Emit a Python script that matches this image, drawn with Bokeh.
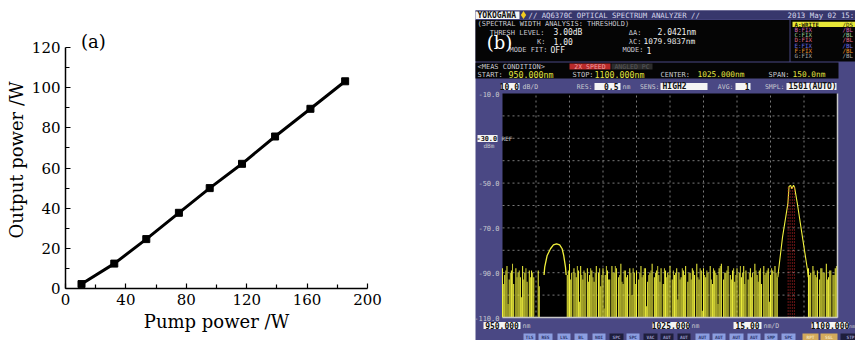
import math
from bokeh.plotting import figure
from bokeh.layouts import row
from bokeh.models import Label, Range1d, FixedTicker, ColumnDataSource
from bokeh.embed import file_html
from bokeh.resources import INLINE

# ---------------- data: panel (a)
pump_power_w = [10.6, 32.3, 53.5, 75.1, 95.5, 116.9, 138.8, 162.2, 185.2]
output_power_w = [2.2, 12.4, 24.6, 37.7, 50.0, 62.1, 75.7, 89.5, 103.2]
a_xticks = [0, 40, 80, 120, 160, 200]
a_xminor = [20, 60, 100, 140, 180]
a_yticks = [0, 20, 40, 60, 80, 100, 120]
a_yminor = [10, 30, 50, 70, 90, 110]

# ---------------- data: panel (b)  (optical spectrum analyser screen)
osa_start_nm, osa_stop_nm = 950.0, 1100.0
osa_top_dbm, osa_bottom_dbm = -10.0, -110.0
grid_nm = [965, 980, 995, 1010, 1025, 1040, 1055, 1070, 1085]
grid_dbm = [-20, -30, -40, -50, -60, -70, -80, -90, -100]
level_labels_dbm = [-10, -50, -70, -90, -110]
level_labels_txt = ["-10.0", "-50.0", "-70.0", "-90.0", "-110.0"]
noise_nm = [950 + i for i in range(151)]          # samples on whole nm
noise_dbm = [
    -88, -91, -87, -93, -89, -95, -88, -90, -92, -87,
    -90, -94, -89, -89, -92, -110, -89, -110, -110, -110,
    -110, -110, -110, -110, -110, -110, -110, -110, -110, -91,
    -86, -90, -88, -92, -89, -87, -93, -90, -88, -91,
    -89, -94, -87, -90, -96, -88, -91, -89, -93, -87,
    -90, -88, -92, -86, -95, -89, -91, -88, -100, -90,
    -89, -93, -87, -91, -88, -94, -90, -86, -92, -89,
    -91, -88, -95, -89, -90, -87, -93, -91, -88, -90,
    -92, -89, -87, -94, -90, -88, -91, -86, -93, -89,
    -88, -92, -90, -87, -95, -89, -91, -88, -86, -93,
    -90, -87, -91, -89, -94, -88, -90, -92, -87, -89,
    -93, -88, -90, -86, -91, -89, -95, -87, -90, -88,
    -91, -89, -87, -92, -110, -110, -110, -110, -110, -110,
    -110, -110, -110, -110, -110, -110, -110, -88, -90, -87,
    -91, -89, -93, -88, -90, -86, -92, -89, -91, -88,
    -90,
]
noise2_nm = [950.5 + i for i in range(150)]       # samples on half nm
noise2_dbm = [
    -95, -89, -104, -90, -86, -110, -92, -89, -101, -93,
    -88, -110, -92, -90, -110, -110, -96, -110, -110, -110,
    -110, -110, -110, -110, -110, -110, -110, -110, -110, -89,
    -93, -110, -90, -87, -103, -91, -89, -110, -94, -88,
    -92, -90, -110, -88, -91, -106, -87, -93, -110, -90,
    -87, -110, -91, -94, -89, -92, -110, -90, -88, -95,
    -110, -90, -92, -88, -105, -91, -89, -110, -90, -87,
    -94, -110, -88, -92, -91, -110, -89, -90, -102, -93,
    -88, -91, -110, -90, -93, -89, -110, -92, -88, -107,
    -91, -89, -110, -93, -88, -90, -104, -87, -110, -90,
    -89, -110, -93, -88, -91, -110, -87, -90, -95, -110,
    -90, -92, -110, -89, -94, -88, -110, -91, -89, -103,
    -88, -110, -90, -110, -110, -110, -110, -110, -110, -110,
    -110, -110, -110, -110, -110, -110, -110, -91, -110, -89,
    -92, -110, -88, -90, -110, -93, -89, -110, -91, -87,
]
bump_nm = [968.6, 968.9, 970.0, 971.5, 972.8, 974.2, 975.6, 976.7, 977.4, 978.2, 978.5]
bump_dbm = [-91, -87.5, -82.3, -79.3, -77.6, -77.1, -77.6, -79.3, -82.3, -87.5, -91]
peak_nm = [1073.3, 1073.6, 1075.4, 1077.8, 1078.3, 1079.0, 1079.6, 1080.3, 1080.8, 1082.0, 1084.6, 1086.6, 1086.9]
peak_dbm = [-92, -89, -74, -59, -51.5, -51.0, -52.5, -51.0, -52.0, -59, -76, -89, -92]
marker_nm = [1077.9, 1078.8, 1079.8, 1080.7]
marker_top_dbm = -52

SERIF = "DejaVu Serif"
MONO = "DejaVu Sans Mono"

# ======================= panel (a) =======================
pa = figure(width=470, height=340, x_range=Range1d(0, 200), y_range=Range1d(0, 128),
            output_backend="svg", toolbar_location=None,
            min_border_left=65, min_border_right=103, min_border_top=31, min_border_bottom=52)
pa.frame_align = False
pa.xgrid.visible = False
pa.ygrid.visible = False
pa.outline_line_color = None
pa.background_fill_color = "white"
pa.border_fill_color = "white"
pa.line(pump_power_w, output_power_w, line_width=3, line_color="black")
pa.scatter(pump_power_w, output_power_w, marker="square", size=7,
           fill_color="black", line_color="black")
pa.xaxis.ticker = FixedTicker(ticks=a_xticks, minor_ticks=a_xminor)
pa.yaxis.ticker = FixedTicker(ticks=a_yticks, minor_ticks=a_yminor)
pa.yaxis.bounds = (0, 120)
pa.xaxis.axis_label = "Pump power /W"
pa.yaxis.axis_label = "Output power /W"
for ax in [pa.xaxis[0], pa.yaxis[0]]:
    ax.axis_line_width = 1.5
    ax.axis_line_color = "black"
    ax.major_tick_in = 5
    ax.major_tick_out = 0
    ax.minor_tick_in = 4
    ax.minor_tick_out = 0
    ax.major_tick_line_width = 1.2
    ax.minor_tick_line_width = 1.2
    ax.major_tick_line_color = "black"
    ax.minor_tick_line_color = "black"
    ax.major_label_text_font = SERIF
    ax.major_label_text_font_size = "15px"
    ax.major_label_text_color = "black"
    ax.major_label_standoff = 5
    ax.axis_label_text_font = SERIF
    ax.axis_label_text_font_size = "18px"
    ax.axis_label_text_font_style = "normal"
    ax.axis_label_text_color = "black"
pa.xaxis.axis_label_standoff = 3
pa.yaxis.axis_label_standoff = 2

pa.add_layout(Label(x=18.5, y=123, text="(a)",
                    text_font=SERIF, text_font_size="18px", text_color="black",
                    text_align="center", text_baseline="middle"))

# ======================= panel (b) =======================
KX = (837 - 502) / (osa_stop_nm - osa_start_nm)   # px per nm
KY = (317 - 93) / (osa_top_dbm - osa_bottom_dbm)  # px per dB


def X(px):
    return osa_start_nm + (px - 502) / KX


def Y(py):
    return osa_top_dbm - (py - 93) / KY


pb = figure(width=385, height=340, x_range=Range1d(X(470), X(855)),
            y_range=Range1d(Y(340), Y(0)), output_backend="svg", toolbar_location=None,
            x_axis_location=None, y_axis_location=None,
            min_border_left=0, min_border_right=0, min_border_top=0, min_border_bottom=0)
pb.frame_align = False
pb.grid.visible = False
pb.outline_line_color = None
pb.background_fill_color = "white"
pb.border_fill_color = "white"

NAVY = "#4a4884"
boxes = dict(left=[], right=[], top=[], bottom=[], color=[])


def box(l, t, r, b, c):
    boxes["left"].append(X(l))
    boxes["right"].append(X(r))
    boxes["top"].append(Y(t))
    boxes["bottom"].append(Y(b))
    boxes["color"].append(c)


box(475, 10, 860, 345, NAVY)
box(475, 10, 860, 19, "#37376c")
box(475, 11, 519, 18.5, "#f4f4f4")
box(475, 19.5, 789, 61, "#050505")
box(790, 19.5, 860, 61, "#050505")
box(792, 21.3, 860, 26.6, "#e8e838")
box(475, 62, 838, 78, "#050505")
box(569, 63, 610, 69, "#b82a2a")
box(611, 63, 652, 69, "#2c2c2c")
# settings row white boxes
box(501, 82.5, 519, 89.5, "#f4f4f4")
box(594, 82.5, 620, 89.5, "#f4f4f4")
box(660, 82.5, 707, 89.5, "#f4f4f4")
box(735, 82.5, 750, 89.5, "#f4f4f4")
box(786, 82.5, 836, 89.5, "#f4f4f4")
# ref level box
box(477, 134.5, 497, 141.5, "#f4f4f4")
# bottom row white boxes
box(483, 321.5, 520, 328.5, "#f4f4f4")
box(652, 321.5, 689, 328.5, "#f4f4f4")
box(733, 321.5, 761, 328.5, "#f4f4f4")
box(811, 321.5, 848, 328.5, "#f4f4f4")
# soft-key buttons along the bottom edge
buttons = [(523, 535, "TLS", 0), (538, 552, "RES", 0), (557, 570, "LVL", 0), (574, 587, "BL", 0),
           (592, 605, "NOI", 0), (609, 623, "SPC", 1), (626, 639, "SPC", 0), (643, 657, "VAC", 1),
           (660, 673, "AUT", 1), (677, 690, "AUT", 1), (695, 709, "AUT", 0), (712, 725, "AUT", 0),
           (729, 743, "AUT", 0), (747, 760, "AUT", 0), (764, 777, "SMP", 0), (781, 795, "SPC", 0),
           (802, 818, "RPT", 2), (820, 837, "SGL", 2), (840, 860, "STP", 1)]
btn_fill = ["#8c9ee0", "#1e1e3c", "#d4aa5c"]
btn_text = ["#2a3470", "#9a9ac8", "#f4e4b8"]
for l, r, t, k in buttons:
    box(l, 333, r, 341, btn_fill[k])
pb.quad(left="left", right="right", top="top", bottom="bottom", fill_color="color",
        line_color=None, source=ColumnDataSource(boxes))

# plot area
pb.quad(left=[osa_start_nm], right=[osa_stop_nm], top=[osa_top_dbm], bottom=[osa_bottom_dbm],
        fill_color="black", line_color=None)
pb.segment(x0=grid_nm, y0=[osa_bottom_dbm] * len(grid_nm), x1=grid_nm,
           y1=[osa_top_dbm] * len(grid_nm), line_color="#7a7a7a", line_width=1, line_dash="2 3")
pb.segment(x0=[osa_start_nm] * len(grid_dbm), y0=grid_dbm, x1=[osa_stop_nm] * len(grid_dbm),
           y1=grid_dbm, line_color="#7a7a7a", line_width=1, line_dash="2 3")

YEL = "#f0f03c"
YEL2 = "#d4d436"
pb.vbar(x=noise_nm, width=0.46, bottom=osa_bottom_dbm, top=noise_dbm,
        fill_color=YEL, line_color=None)
pb.vbar(x=noise2_nm, width=0.42, bottom=osa_bottom_dbm, top=noise2_dbm,
        fill_color=YEL2, line_color=None)
pb.line(bump_nm, bump_dbm, line_color=YEL, line_width=1.3)
pb.line(peak_nm, peak_dbm, line_color=YEL, line_width=1.1)
pb.segment(x0=marker_nm, y0=[osa_bottom_dbm] * len(marker_nm), x1=marker_nm,
           y1=[marker_top_dbm] * len(marker_nm), line_color="#d42a2a", line_width=1,
           line_dash="1 2")
# frame lines (bottom and right)
pb.segment(x0=[osa_start_nm, osa_stop_nm], y0=[osa_bottom_dbm, osa_bottom_dbm],
           x1=[osa_stop_nm, osa_stop_nm], y1=[osa_bottom_dbm, osa_top_dbm],
           line_color="#c8c8c8", line_width=1.5)

# diamond in title bar
pb.scatter([X(523)], [Y(14.5)], marker="diamond", size=8, fill_color="#f2cc20", line_color=None)


def lab(px, py, s, color="#c4c4d4", size=7, align="left", font=MONO, style="normal"):
    pb.add_layout(Label(x=X(px), y=Y(py), text=s, text_color=color,
                        text_font_size=f"{size}px", text_align=align,
                        text_baseline="middle", text_font=font, text_font_style=style))


GR = "#c8c8d0"
WH = "#f0f0f0"
YT = "#e4e440"
# title bar
lab(477, 14.8, "YOKOGAWA", color="#111111", size=8, style="bold")
lab(528, 14.8, "// AQ6370C OPTICAL SPECTRUM ANALYZER //", color="#d8d8ec", size=7.3)
lab(787, 14.8, "2013 May 02 15:", color="#d8d8ec", size=7.4)
# analysis box
lab(477, 23.5, "(SPECTRAL WIDTH ANALYSIS: THRESHOLD)", color=GR, size=7)
lab(544, 32, "THRESH LEVEL:", color=GR, size=7, align="right")
lab(553, 32, "3.00dB", color=WH, size=8)
lab(641, 32, "\u0394A:", color=GR, size=7, align="right")
lab(657, 32, "2.0421nm", color=WH, size=8)
lab(545, 41, "K:", color=GR, size=7, align="right")
lab(553, 41, "1.00", color=WH, size=8)
lab(641, 41, "\u03bbC:", color=GR, size=7, align="right")
lab(643, 41, "1079.9837nm", color=WH, size=7.8)
lab(547, 49.5, "MODE FIT:", color=GR, size=7, align="right")
lab(550, 49.5, "OFF", color=WH, size=8)
lab(643, 49.5, "MODE:", color=GR, size=7, align="right")
lab(646, 49.5, "1", color=WH, size=8)
# trace list
traces = [("A:WRITE", "#202000", "/DS"), ("B:FIX", "#d264b4", "/BL"),
          ("C:FIX", "#9cc89c", "/BL"), ("D:FIX", "#e06a8a", "/BL"),
          ("E:FIX", "#6a6ae0", "/BL"), ("F:FIX", "#ee9430", "/BL"),
          ("G:FIX", "#a8a8a8", "/BL")]
for i, (t, c, s) in enumerate(traces):
    yy = 24 + i * 5.25
    lab(794, yy, t, color=c, size=5.8, style="bold" if i == 0 else "normal")
    lab(842, yy, s, color=c, size=5.8)
# meas condition
lab(477, 66, "<MEAS CONDITION>", color=GR, size=7)
lab(589.5, 66, "2X SPEED", color="#f0a0a0", size=6.5, align="center")
lab(631.5, 66, "ANGLED PC", color="#5a5a5a", size=6.5, align="center")
lab(477, 74, "START:", color=GR, size=7)
lab(508, 74, "950.000nm", color=YT, size=8.3)
lab(572, 74, "STOP:", color=GR, size=7)
lab(594, 74, "1100.000nm", color=YT, size=8.3)
lab(660, 74, "CENTER:", color=GR, size=7)
lab(697, 74, "1025.000nm", color=YT, size=7.8)
lab(768, 74, "SPAN:", color=GR, size=7)
lab(792, 74, "150.0nm", color=YT, size=7.8)
# settings row
lab(518.5, 86.2, "10.0", color="#111111", size=8, align="right", style="bold")
lab(522, 86.2, "dB/D", color=GR, size=6.5)
lab(592, 86.2, "RES:", color=GR, size=6.5, align="right")
lab(618, 86.2, "0.5", color="#111111", size=8, align="right", style="bold")
lab(622, 86.2, "nm", color=GR, size=6.5)
lab(659, 86.2, "SENS:", color=GR, size=6.5, align="right")
lab(662, 86.2, "HIGH2", color="#111111", size=8, style="bold")
lab(733, 86.2, "AVG:", color=GR, size=6.5, align="right")
lab(749, 86.2, "1", color="#111111", size=8, align="right", style="bold")
lab(784, 86.2, "SMPL:", color=GR, size=6.5, align="right")
lab(788, 86.2, "1501(AUTO)", color="#111111", size=8, style="bold")
# level labels
for v, t in zip(level_labels_dbm, level_labels_txt):
    pb.add_layout(Label(x=X(499), y=v, text=t, text_color=GR, text_font_size="7px",
                        text_align="right", text_baseline="middle", text_font=MONO))
lab(496.5, 138, "-30.0", color="#111111", size=6.8, align="right", style="bold")
lab(501, 138, "REF", color=GR, size=6)
lab(483, 145, "dBm", color=GR, size=6)
# bottom row
lab(501.5, 325, "950.000", color="#111111", size=8, align="center", style="bold")
lab(522, 325.5, "nm", color=GR, size=6.5)
lab(670.5, 325, "1025.000", color="#111111", size=8, align="center", style="bold")
lab(691, 325.5, "nm", color=GR, size=6.5)
lab(747, 325, "15.00", color="#111111", size=8, align="center", style="bold")
lab(763, 325.5, "nm/D", color=GR, size=6.5)
lab(829.5, 325, "1100.000", color="#111111", size=8, align="center", style="bold")
lab(848.5, 325.5, "nm", color=GR, size=4.8)
for l, r, t, k in buttons:
    lab((l + r) / 2, 336.5, t, color=btn_text[k], size=4.5, align="center", style="bold")
# (b) label
pb.add_layout(Label(x=X(499), y=Y(42), text="(b)", text_color="white",
                    text_font=SERIF, text_font_size="18px", text_align="center",
                    text_baseline="middle"))

layout = row(pa, pb)
open("out.html", "w").write(file_html(layout, INLINE))
